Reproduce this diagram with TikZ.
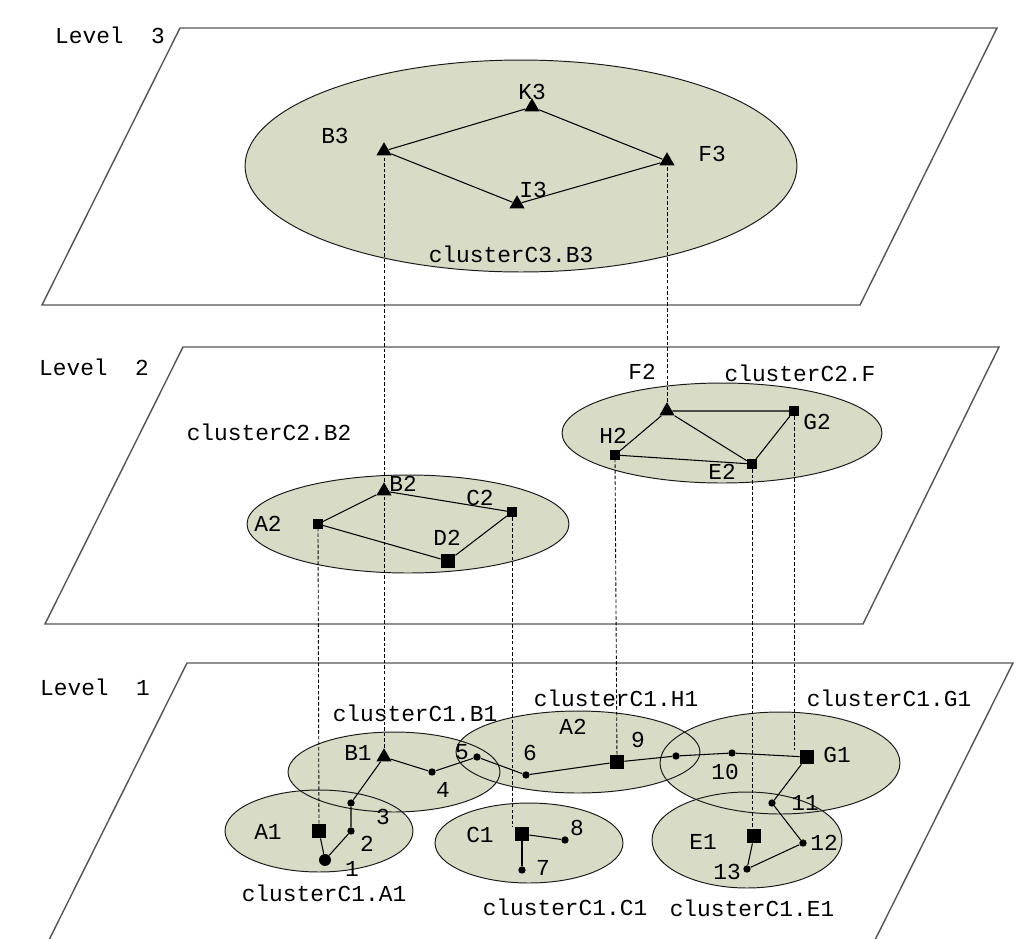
\documentclass[tikz,border=0pt]{standalone}
\usepackage{fontspec}
\setmonofont{Liberation Mono}
\usepackage{xcolor}
\usepackage{tikz}
\usetikzlibrary{shapes.geometric}

\definecolor{clusterfill}{RGB}{216,220,198}
\definecolor{planeline}{RGB}{85,85,85}

\tikzset{
  plane/.style={draw=planeline, line width=0.8pt},
  rim/.style={draw=black!90, line width=0.55pt},
  link/.style={draw=black, line width=0.6pt},
  drop/.style={draw=black, line width=0.5pt, dash pattern=on 2pt off 1.2pt},
  head/.style={regular polygon, regular polygon sides=3, fill=black, inner sep=0pt, minimum size=10pt},
  sq/.style={rectangle, fill=black, inner sep=0pt, minimum size=5.5pt},
  bigsq/.style={rectangle, fill=black, inner sep=0pt, minimum size=8pt},
  joint/.style={circle, fill=black, inner sep=0pt, minimum size=4.2pt},
  lbl/.style={font=\fontsize{13}{13}\selectfont\ttfamily, inner sep=0pt}
}

\begin{document}
\begin{tikzpicture}[x=0.02cm, y=-0.02cm]
        \useasboundingbox (0,0) rectangle (1036,938);

        % the three levels
        \draw[plane] (42,305) -- (180,28) -- (997,28) -- (860,305) -- cycle;
        \draw[plane] (45,624) -- (183,347) -- (999,347) -- (863,624) -- cycle;
        \draw[plane] (46.5,945) -- (187,663) -- (1013,663) -- (872.5,945);

        % clusters: fill first, outlines on top
        \fill[clusterfill] (521,166) ellipse [x radius=5.52cm, y radius=2.12cm];
        \fill[clusterfill] (408,524) ellipse [x radius=3.22cm, y radius=0.98cm];
        \fill[clusterfill] (722,433) ellipse [x radius=3.2cm, y radius=1.0cm];
        \fill[clusterfill] (394,772) ellipse [x radius=2.12cm, y radius=0.8cm];
        \fill[clusterfill] (319,831) ellipse [x radius=1.88cm, y radius=0.82cm];
        \fill[clusterfill] (578,752) ellipse [x radius=2.44cm, y radius=0.82cm];
        \fill[clusterfill] (529,843) ellipse [x radius=1.88cm, y radius=0.8cm];
        \fill[clusterfill] (780,763) ellipse [x radius=2.4cm, y radius=1.02cm];
        \fill[clusterfill] (747,840) ellipse [x radius=1.9cm, y radius=0.96cm];

        \draw[rim] (521,166) ellipse [x radius=5.52cm, y radius=2.12cm];
        \draw[rim] (408,524) ellipse [x radius=3.22cm, y radius=0.98cm];
        \draw[rim] (722,433) ellipse [x radius=3.2cm, y radius=1.0cm];
        \draw[rim] (394,772) ellipse [x radius=2.12cm, y radius=0.8cm];
        \draw[rim] (319,831) ellipse [x radius=1.88cm, y radius=0.82cm];
        \draw[rim] (578,752) ellipse [x radius=2.44cm, y radius=0.82cm];
        \draw[rim] (529,843) ellipse [x radius=1.88cm, y radius=0.8cm];
        \draw[rim] (780,763) ellipse [x radius=2.4cm, y radius=1.02cm];
        \draw[rim] (747,840) ellipse [x radius=1.9cm, y radius=0.96cm];

        % level 3
        \node[head] (B3) at (384,151) {};
        \node[head] (K3) at (532,107) {};
        \node[head] (F3) at (667,161) {};
        \node[head] (I3) at (517,204) {};
        \draw[link] (B3) -- (K3) -- (F3) -- (I3) -- (B3);

        % level 2
        \node[head] (B2) at (384,491) {};
        \node[sq] (A2) at (318,524) {};
        \node[sq] (C2) at (512,512) {};
        \node[bigsq] (D2) at (448,561) {};
        \draw[link] (A2) -- (B2) -- (C2) -- (D2) -- (A2);

        \node[head] (F2) at (667,411) {};
        \node[sq] (G2) at (794,411) {};
        \node[sq] (H2) at (615,455) {};
        \node[sq] (E2) at (752,464) {};
        \draw[link] (F2) -- (G2) -- (E2) -- (H2) -- (F2) -- (E2);

        % level 1
        \node[head] (B1) at (384,757) {};
        \node[bigsq] (A1) at (319,831) {};
        \node[bigsq] (H1) at (617,762) {};
        \node[bigsq] (C1) at (522,834) {};
        \node[bigsq] (G1) at (807,757) {};
        \node[bigsq] (E1) at (754,836) {};
        \node[joint, minimum size=6.8pt] (n1) at (325,860) {};
        \node[joint] (n2) at (351,831) {};
        \node[joint] (n3) at (351,803) {};
        \node[joint] (n4) at (432,772) {};
        \node[joint] (n5) at (477,757) {};
        \node[joint] (n6) at (526,775) {};
        \node[joint] (n7) at (522,870) {};
        \node[joint] (n8) at (565,840) {};
        \node[joint] (n9) at (676,756) {};
        \node[joint] (n10) at (732,753) {};
        \node[joint] (n11) at (772,803) {};
        \node[joint] (n12) at (803,843) {};
        \node[joint] (n13) at (747,869) {};

        \draw[link] (A1) -- (n1) -- (n2) -- (n3) -- (B1) -- (n4) -- (n5) -- (n6) -- (H1) -- (n9) -- (n10) -- (G1);
        \draw[link] (G1) -- (n11) -- (n12) -- (n13) -- (E1);
        \draw[link] (C1) -- (n8);
        \draw[link] (C1) -- (n7);

        % links between levels
        \draw[drop] (B1) -- (B2);
        \draw[drop] (B2) -- (B3);
        \draw[drop] (F2) -- (F3);
        \draw[drop] (A1) -- (A2);
        \draw[drop] (C2) -- (C2 |- C1.north);
        \draw[drop] (H1) -- (H2);
        \draw[drop] (E2) -- (E2 |- E1.north);
        \draw[drop] (G2) -- (G2 |- G1.north);

        % labels
        \node[lbl] (lv3) at (110,35) {Level~~3};
        \node[lbl] (lv2) at (94,367) {Level~~2};
        \node[lbl] (lv1) at (95,687) {Level~~1};

        \node[lbl] (tB3) at (335,136) {B3};
        \node[lbl] (tK3) at (532,92) {K3};
        \node[lbl] (tF3) at (712,154) {F3};
        \node[lbl] (tI3) at (533,190) {I3};
        \node[lbl] (tC3) at (511,254) {clusterC3.B3};

        \node[lbl] (tC2B) at (269,432) {clusterC2.B2};
        \node[lbl] (tB2) at (403,484) {B2};
        \node[lbl] (tA2) at (268,524) {A2};
        \node[lbl] (tC2) at (480,498) {C2};
        \node[lbl] (tD2) at (447,538) {D2};
        \node[lbl] (tF2) at (642,372) {F2};
        \node[lbl] (tC2F) at (800,373) {clusterC2.F};
        \node[lbl] (tG2) at (817,422) {G2};
        \node[lbl] (tH2) at (613,436) {H2};
        \node[lbl] (tE2) at (722,472) {E2};

        \node[lbl] (tC1B) at (415,713) {clusterC1.B1};
        \node[lbl] (tB1) at (358,753) {B1};
        \node[lbl] (t5) at (462,752) {5};
        \node[lbl] (t4) at (443,790) {4};
        \node[lbl] (tA1) at (268,832) {A1};
        \node[lbl] (t3) at (383,817) {3};
        \node[lbl] (t2) at (367,844) {2};
        \node[lbl] (t1) at (352,869) {1};
        \node[lbl] (tC1A) at (324,893) {clusterC1.A1};
        \node[lbl] (tC1H) at (616,698) {clusterC1.H1};
        \node[lbl] (tH1) at (573,727) {A2};
        \node[lbl] (t6) at (530,753) {6};
        \node[lbl] (t9) at (638,740) {9};
        \node[lbl] (tC1) at (480,835) {C1};
        \node[lbl] (t8) at (577,828) {8};
        \node[lbl] (t7) at (543,868) {7};
        \node[lbl] (tC1C) at (565,907) {clusterC1.C1};
        \node[lbl] (tC1G) at (889,698) {clusterC1.G1};
        \node[lbl] (tG1) at (837,755) {G1};
        \node[lbl] (t10) at (725,772) {10};
        \node[lbl] (t11) at (805,803) {11};
        \node[lbl] (tE1) at (703,842) {E1};
        \node[lbl] (t12) at (824,843) {12};
        \node[lbl] (t13) at (727,872) {13};
        \node[lbl] (tC1E) at (752,908) {clusterC1.E1};
\end{tikzpicture}
\end{document}
